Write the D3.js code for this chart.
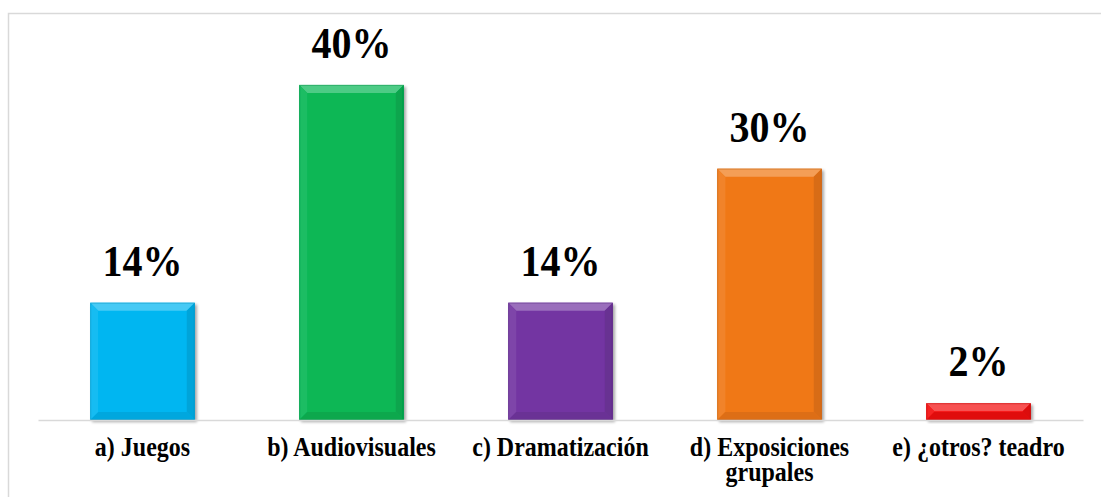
<!DOCTYPE html>
<html>
<head>
<meta charset="utf-8">
<script src="https://cdn.jsdelivr.net/npm/d3@7"></script>
<style>
  html, body { margin: 0; padding: 0; background: #ffffff; }
  svg { display: block; }
</style>
</head>
<body>
<svg id="chart" width="1101" height="497"></svg>
<script>
const categories = ["a) Juegos", "b) Audiovisuales", "c) Dramatización", "d) Exposiciones grupales", "e) ¿otros? teadro"];
const values = [14, 40, 14, 30, 2];
const valueLabels = ["14%", "40%", "14%", "30%", "2%"];
const colors = ["#00B6F1", "#08B755", "#7335A2", "#F07816", "#F40D0D"];

const FONT = '"Liberation Serif"';
const STRETCH = 1.1;
const svg = d3.select("#chart");

// outer chart border
svg.append("rect")
  .attr("x", 8.5).attr("y", 13.5)
  .attr("width", 1110).attr("height", 500)
  .attr("fill", "none").attr("stroke", "#d9d9d9").attr("stroke-width", 1.5);

const x = d3.scaleBand().domain(categories).range([38, 1083]).paddingInner(0.5).paddingOuter(0.25);
const y = d3.scaleLinear().domain([0, 45]).range([420, 43]);

const defs = svg.append("defs");
const f = defs.append("filter").attr("id", "shadow").attr("x", "-20%").attr("y", "-20%").attr("width", "140%").attr("height", "140%");
f.append("feGaussianBlur").attr("in", "SourceAlpha").attr("stdDeviation", 1.5).attr("result", "b");
f.append("feOffset").attr("in", "b").attr("dx", 1.5).attr("dy", 1.5).attr("result", "o");
f.append("feComponentTransfer").attr("in", "o").attr("result", "s")
  .append("feFuncA").attr("type", "linear").attr("slope", 0.35);
const m = f.append("feMerge");
m.append("feMergeNode").attr("in", "s");
m.append("feMergeNode").attr("in", "SourceGraphic");

function mix(c, t, k) { return d3.interpolateRgb(c, t)(k); }

const bars = svg.append("g").selectAll("g").data(categories).join("g")
  .attr("filter", "url(#shadow)");

bars.each(function(cat, i) {
  const g = d3.select(this);
  const x0 = x(cat), x1 = x0 + x.bandwidth();
  const y0 = y(values[i]), y1 = y(0);
  const c = colors[i];
  const b = Math.min(8, (y1 - y0) / 2, (x1 - x0) / 2);
  g.append("rect").attr("x", x0).attr("y", y0).attr("width", x1 - x0).attr("height", y1 - y0).attr("fill", c);
  const face = [x0 + b, y0 + b, x1 - b, y1 - b];
  g.append("polygon").attr("points", [[x0, y0], [x1, y0], [face[2], face[1]], [face[0], face[1]]].join(" "))
    .attr("fill", mix(c, "#ffffff", 0.28));
  g.append("polygon").attr("points", [[x0, y0], [face[0], face[1]], [face[0], face[3]], [x0, y1]].join(" "))
    .attr("fill", mix(c, "#ffffff", 0.08));
  g.append("polygon").attr("points", [[x1, y0], [x1, y1], [face[2], face[3]], [face[2], face[1]]].join(" "))
    .attr("fill", mix(c, "#000000", 0.10));
  g.append("polygon").attr("points", [[x0, y1], [face[0], face[3]], [face[2], face[3]], [x1, y1]].join(" "))
    .attr("fill", mix(c, "#000000", 0.08));
  g.append("rect").attr("x", x0 + 0.5).attr("y", y0 + 0.5).attr("width", x1 - x0 - 1).attr("height", y1 - y0 - 1)
    .attr("fill", "none").attr("stroke", mix(c, "#000000", 0.25)).attr("stroke-width", 1).attr("stroke-opacity", 0.4);
});

// axis
const xAxis = d3.axisBottom(x).tickSize(0).tickPadding(0);
const ax = svg.append("g").attr("transform", "translate(0,420)").call(xAxis);
ax.attr("font-family", null).attr("font-size", null);
ax.select(".domain").attr("stroke", "#d9d9d9").attr("stroke-width", 1.5);
ax.selectAll(".tick text").remove();
ax.selectAll(".tick").each(function(cat) {
  const t = d3.select(this).append("text")
    .attr("text-anchor", "middle")
    .attr("transform", `translate(0,36) scale(1,${STRETCH})`)
    .attr("font-size", 24).attr("font-weight", "bold").attr("fill", "#000")
    .style("font-family", FONT);
  const words = cat.split(" ");
  let line = [], lines = [];
  const probe = t.append("tspan");
  words.forEach(w => {
    const test = line.concat(w).join(" ");
    probe.text(test);
    if (probe.node().getComputedTextLength() > x.step() * 0.95 && line.length) {
      lines.push(line.join(" ")); line = [w];
    } else line.push(w);
  });
  lines.push(line.join(" "));
  probe.remove();
  lines.forEach((l, k) => t.append("tspan").attr("x", 0).attr("dy", k ? 25.5 / STRETCH : 0).text(l));
});

// value labels
svg.append("g").selectAll("text").data(categories).join("text")
  .attr("text-anchor", "middle")
  .attr("transform", (d, i) => `translate(${x(d) + x.bandwidth() / 2},${y(values[i]) - 27}) scale(1,${STRETCH})`)
  .attr("font-size", 40).attr("font-weight", "bold").attr("fill", "#000")
  .style("font-family", FONT)
  .text((d, i) => valueLabels[i]);
</script>
</body>
</html>
